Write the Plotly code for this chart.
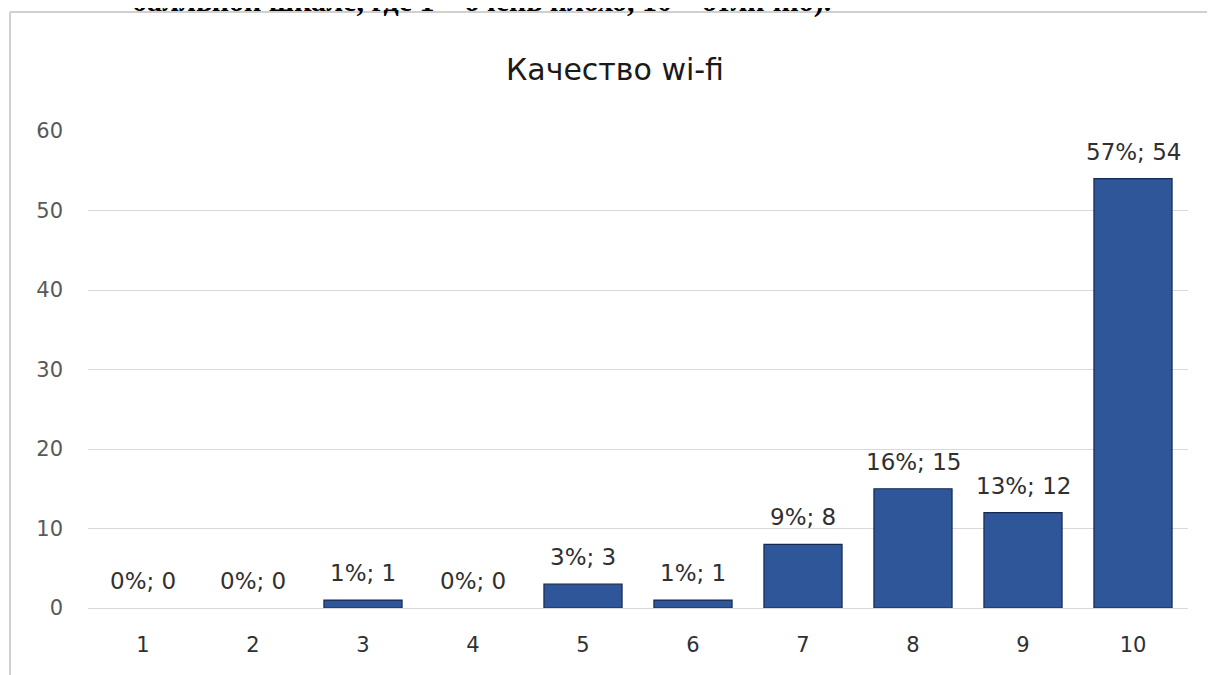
import plotly.graph_objects as go

categories = ["1", "2", "3", "4", "5", "6", "7", "8", "9", "10"]
counts = [0, 0, 1, 0, 3, 1, 8, 15, 12, 54]
percents = [0, 0, 1, 0, 3, 1, 9, 16, 13, 57]
y_ticks = [0, 10, 20, 30, 40, 50, 60]
title_text = "Качество wi-fi"
header_text = "балльной шкале, где 1 – очень плохо, 10 – отлично)."

labels = [f"{p}%; {c}" for p, c in zip(percents, counts)]
line_widths = [1.2 if c > 0 else 0 for c in counts]

FONT = "DejaVu Sans, sans-serif"

fig = go.Figure()
fig.add_trace(go.Bar(
    x=categories, y=counts,
    marker=dict(color="#30569A", line=dict(color="#152a50", width=line_widths)),
    hoverinfo="skip",
))

# category axes index categories by position 0..n-1
label_annotations = [
    dict(text=t, x=i, y=v, xref="x", yref="y", showarrow=False,
         xanchor="center", yanchor="bottom", yshift=12,
         font=dict(family=FONT, size=23, color="#303030"))
    for i, (v, t) in enumerate(zip(counts, labels))
]

fig.update_layout(
    width=1207, height=667,
    margin=dict(l=80, r=27, t=123, b=67, pad=0),
    paper_bgcolor="white", plot_bgcolor="white",
    bargap=0.29, showlegend=False,
    font=dict(family=FONT),
    xaxis=dict(type="category", categoryarray=categories, range=[-0.5, len(categories) - 0.5],
               showgrid=False, zeroline=False, showline=False,
               ticks="", tickfont=dict(size=21, color="#303030"), ticklabelstandoff=22),
    yaxis=dict(range=[0, 60], tickvals=y_ticks, showgrid=True, gridcolor="#d9d9d9",
               gridwidth=1, zeroline=True, zerolinecolor="#d9d9d9", zerolinewidth=1,
               ticks="", tickfont=dict(size=21, color="#595959"), ticklabelstandoff=24),
    annotations=label_annotations + [
        dict(text=title_text, xref="paper", yref="paper", x=0.479, y=1.128,
             showarrow=False, xanchor="center", yanchor="middle",
             font=dict(family=FONT, size=30, color="#1a1a1a")),
        dict(text=f"<b>{header_text}</b>", xref="paper", yref="paper", x=0.358,
             y=1.2327, showarrow=False, xanchor="center", yanchor="bottom",
             font=dict(family="Liberation Serif, Times New Roman, serif", size=30, color="black")),
    ],
    shapes=[
        dict(type="line", xref="paper", yref="paper", x0=-0.0709, x1=1.2,
             y0=1.2495, y1=1.2495, line=dict(color="#d0d0d0", width=2)),
        dict(type="line", xref="paper", yref="paper", x0=-0.0709, x1=-0.0709,
             y0=1.2495, y1=-0.3, line=dict(color="#d0d0d0", width=2)),
    ],
)

fig.write_html("out.html")
